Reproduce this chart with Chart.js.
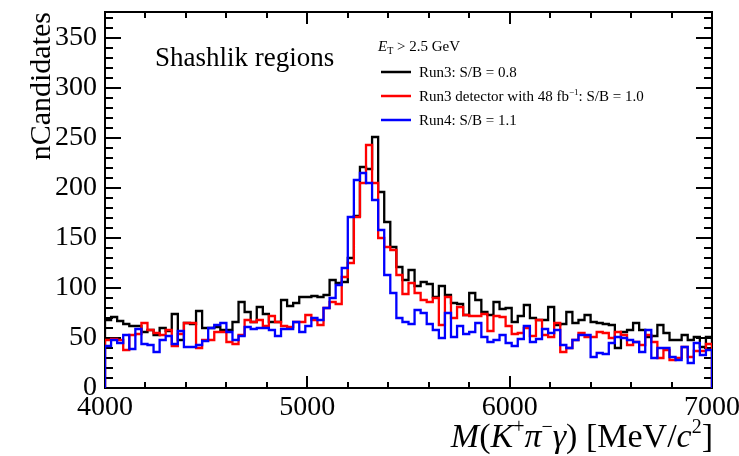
<!DOCTYPE html>
<html><head><meta charset="utf-8">
<script src="https://cdn.jsdelivr.net/npm/chart.js@4.4.0/dist/chart.umd.min.js"></script>
<style>html,body{margin:0;padding:0;background:#fff;} canvas{display:block;}</style>
</head><body>
<canvas id="c" width="739" height="456"></canvas>
<script>
// ---- binning (categories) ----
const massRange = [4000, 7000];   // MeV/c^2
const binWidth = 30;              // 100 bins

// ---- series values (candidates per bin) ----
const run3 = [68,71,67,64,62,62,56,58,53,60,
  57,74,48,65,64,77,60,60,61,58,
  58,66,86,76,66,81,74,66,66,88,
  82,85,91,91,92,91,93,108,105,106,
  130,172,221,219,251,196,166,141,121,108,
  118,102,106,104,91,102,93,85,84,73,
  95,88,76,73,86,79,80,66,72,83,
  70,68,68,81,63,64,76,65,68,73,
  66,65,64,63,40,56,58,65,58,51,
  52,63,55,48,48,53,48,51,41,51];
const run3Det48 = [48,49,48,38,53,54,65,58,55,53,
  58,42,54,65,65,40,48,48,56,56,
  46,44,53,68,66,68,62,72,66,62,
  61,66,66,73,68,63,80,86,84,111,
  125,171,205,243,205,150,141,138,113,94,
  105,95,88,86,90,63,91,70,81,73,
  72,72,74,57,72,71,62,54,55,60,
  52,68,53,51,65,36,40,48,55,51,
  51,56,55,50,56,53,43,46,43,53,
  46,30,38,28,30,41,31,37,37,44];
const run4 = [42,48,45,53,39,59,44,43,36,48,
  52,44,57,41,41,43,47,60,63,65,
  56,48,52,61,59,60,60,58,52,59,
  59,66,56,62,70,68,80,90,103,120,
  171,208,215,205,188,158,113,95,70,66,
  64,78,75,64,58,50,75,51,62,54,
  56,65,51,46,48,53,45,42,49,62,
  46,49,59,55,58,43,40,48,53,53,
  31,35,34,45,51,50,48,46,36,58,
  30,40,40,31,28,41,25,45,33,38];

// ---- tick labels / texts ----
const yTickLabels = ['0','50','100','150','200','250','300','350'];
const xTickLabels = ['4000','5000','6000','7000'];
const yTitle = 'nCandidates';
const plotLabel = 'Shashlik regions';
const legendLabels = ['Run3: S/B = 0.8', 'Run3 detector with 48 fb', 'Run4: S/B = 1.1'];
const colors = ['#000000', '#ff0000', '#0000ff'];

const SERIF = "'Liberation Serif', 'Times New Roman', serif";

function histPoints(vals) {
  const pts = [{x: massRange[0], y: 0}];
  vals.forEach((v, i) => pts.push({x: massRange[0] + i * binWidth, y: v}));
  pts.push({x: massRange[1], y: vals[vals.length - 1]});
  pts.push({x: massRange[1], y: 0});
  return pts;
}

function drawRuns(ctx, runs, x, y, align) {
  const measure = r => { ctx.font = (r.italic ? 'italic ' : '') + r.size + 'px ' + SERIF; return ctx.measureText(r.text).width; };
  let total = 0;
  runs.forEach(r => { r.w = measure(r); total += r.w + (r.gap || 0); });
  let cx = align === 'right' ? x - total : x;
  ctx.textAlign = 'left';
  ctx.textBaseline = 'alphabetic';
  runs.forEach(r => {
    ctx.font = (r.italic ? 'italic ' : '') + r.size + 'px ' + SERIF;
    ctx.fillText(r.text, cx, y + (r.dy || 0));
    cx += r.w + (r.gap || 0);
  });
}

const framePlugin = {
  id: 'frame',
  beforeDatasetsDraw(chart) {
    const {ctx, chartArea: a, scales: {x, y}} = chart;
    ctx.save();
    ctx.strokeStyle = '#000';
    ctx.lineWidth = 2;
    ctx.beginPath();
    for (let v = 0; v <= 370; v += 10) {
      const p = Math.round(y.getPixelForValue(v));
      const len = v % 50 === 0 ? 16 : 8;
      ctx.moveTo(a.left, p); ctx.lineTo(a.left + len, p);
      ctx.moveTo(a.right, p); ctx.lineTo(a.right - len, p);
    }
    for (let v = massRange[0]; v <= massRange[1]; v += 200) {
      const p = Math.round(x.getPixelForValue(v));
      const len = v % 1000 === 0 ? 12 : 6;
      ctx.moveTo(p, a.bottom); ctx.lineTo(p, a.bottom - len);
      ctx.moveTo(p, a.top); ctx.lineTo(p, a.top + len);
    }
    ctx.stroke();
    ctx.strokeRect(a.left, a.top, a.right - a.left, a.bottom - a.top);
    ctx.restore();
  }
};

const textPlugin = {
  id: 'texts',
  afterDraw(chart) {
    const {ctx, chartArea: a} = chart;
    ctx.save();
    ctx.fillStyle = '#000';
    // x-axis title
    drawRuns(ctx, [
      {text: 'M', size: 34, italic: true},
      {text: '(', size: 34},
      {text: 'K', size: 34, italic: true},
      {text: '+', size: 20, dy: -14},
      {text: 'π', size: 34, italic: true},
      {text: '−', size: 20, dy: -14},
      {text: 'γ', size: 34, italic: true},
      {text: ') [MeV/', size: 34},
      {text: 'c', size: 34, italic: true},
      {text: '2', size: 20, dy: -14},
      {text: ']', size: 34}
    ], a.right + 1, 447, 'right');
    // plot label
    drawRuns(ctx, [{text: plotLabel, size: 27}], 155, 66, 'left');
    // legend header
    drawRuns(ctx, [
      {text: 'E', size: 15, italic: true},
      {text: 'T', size: 10, dy: 3},
      {text: ' > 2.5 GeV', size: 15}
    ], 378, 51, 'left');
    // legend entries
    const rows = [72, 96, 120];
    rows.forEach((ry, i) => {
      ctx.strokeStyle = colors[i];
      ctx.lineWidth = 2.5;
      ctx.beginPath();
      ctx.moveTo(381, ry); ctx.lineTo(411, ry);
      ctx.stroke();
      const runs = [{text: legendLabels[i], size: 15}];
      if (i === 1) {
        runs.push({text: '−1', size: 9, dy: -6});
        runs.push({text: ': S/B = 1.0', size: 15});
      }
      drawRuns(ctx, runs, 419, ry + 5, 'left');
    });
    ctx.restore();
  }
};

const ctx = document.getElementById('c').getContext('2d');
new Chart(ctx, {
  type: 'line',
  data: {
    datasets: [
      {label: legendLabels[0], data: histPoints(run3), borderColor: colors[0], order: 2},
      {label: legendLabels[1], data: histPoints(run3Det48), borderColor: colors[1], order: 1},
      {label: legendLabels[2], data: histPoints(run4), borderColor: colors[2], order: 0}
    ].map(d => Object.assign(d, {stepped: 'before', borderWidth: 2.3, pointRadius: 0, fill: false, tension: 0, borderJoinStyle: 'miter'}))
  },
  options: {
    responsive: false,
    animation: false,
    devicePixelRatio: 1,
    layout: {padding: {top: 12, right: 27, left: 0, bottom: 0}},
    plugins: {legend: {display: false}, tooltip: {enabled: false}},
    scales: {
      x: {
        type: 'linear', min: massRange[0], max: massRange[1],
        grid: {display: false, drawTicks: false}, border: {display: false},
        ticks: {
          stepSize: 1000, includeBounds: false, autoSkip: false, maxRotation: 0, minRotation: 0,
          padding: 3, color: '#000', font: {family: SERIF, size: 28},
          callback: v => { const s = String(v); return xTickLabels.includes(s) ? s : ''; }
        },
        afterFit: s => { s.height = 68; s.paddingLeft = 0; s.paddingRight = 0; }
      },
      y: {
        min: 0, max: 376,
        grid: {display: false, drawTicks: false}, border: {display: false},
        ticks: {
          stepSize: 50, includeBounds: false, autoSkip: false,
          padding: 8, color: '#000', font: {family: SERIF, size: 28},
          callback: v => { const s = String(v); return yTickLabels.includes(s) ? s : ''; }
        },
        title: {display: true, text: yTitle, align: 'end', color: '#000',
          font: {family: SERIF, size: 30}, padding: {top: 24, bottom: 0}},
        afterFit: s => { s.width = 105; s.paddingTop = 0; s.paddingBottom = 0; }
      }
    }
  },
  plugins: [framePlugin, textPlugin]
});
</script>
</body></html>
